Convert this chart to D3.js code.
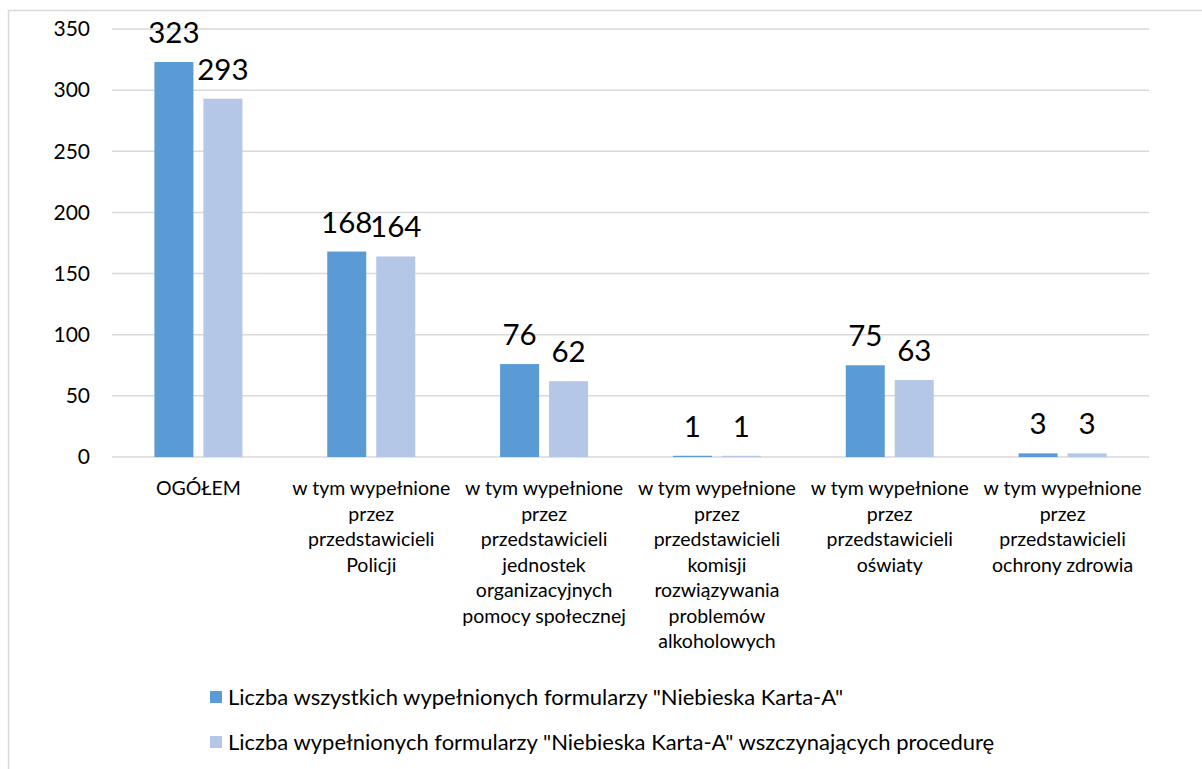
<!DOCTYPE html>
<html>
<head>
<meta charset="utf-8">
<script src="https://cdn.jsdelivr.net/npm/d3@7"></script>
<style>
  body { margin: 0; background: #fff; }
  svg text { font-family: Lato, "Liberation Sans", Arial, sans-serif; fill: #000; }
</style>
</head>
<body>
<svg id="chart" width="1202" height="769"></svg>
<script>
// categories, each already split into the lines shown under the axis
const categories = [
    ['OGÓŁEM'],
    ['w tym wypełnione', 'przez', 'przedstawicieli', 'Policji'],
    ['w tym wypełnione', 'przez', 'przedstawicieli', 'jednostek', 'organizacyjnych', 'pomocy społecznej'],
    ['w tym wypełnione', 'przez', 'przedstawicieli', 'komisji', 'rozwiązywania', 'problemów', 'alkoholowych'],
    ['w tym wypełnione', 'przez', 'przedstawicieli', 'oświaty'],
    ['w tym wypełnione', 'przez', 'przedstawicieli', 'ochrony zdrowia']
]
const allForms = [323, 168, 76, 1, 75, 3]
const startedProcedure = [293, 164, 62, 1, 63, 3]
const seriesNames = [
    'Liczba wszystkich wypełnionych formularzy "Niebieska Karta-A"',
    'Liczba wypełnionych formularzy "Niebieska Karta-A" wszczynających procedurę'
]
const seriesColors = ['#5b9bd5', '#b4c7e7']
const yTicks = [0, 50, 100, 150, 200, 250, 300, 350]

const svg = d3.select('#chart')
const plot = { left: 112, right: 1149, top: 29, bottom: 457 }

// outer chart frame (runs off the right and bottom edge)
svg.append('rect')
    .attr('x', 8.5).attr('y', 10.5)
    .attr('width', 1300).attr('height', 900)
    .attr('fill', 'none')
    .attr('stroke', '#d9d9d9')
    .attr('stroke-width', 1.5)

const idx = d3.range(categories.length)
const x0 = d3.scaleBand().domain(idx).range([plot.left, plot.right])
const x1 = d3.scaleBand().domain([0, 1]).range([0, 88]).paddingInner(10 / 49)
const y = d3.scaleLinear().domain([0, 350]).range([plot.bottom, plot.top])

// gridlines
svg.append('g')
    .selectAll('line')
    .data(yTicks)
    .enter()
    .append('line')
    .attr('x1', plot.left).attr('x2', plot.right)
    .attr('y1', d => y(d)).attr('y2', d => y(d))
    .attr('stroke', '#d9d9d9')
    .attr('stroke-width', 1.5)

// y axis labels
svg.append('g')
    .selectAll('text')
    .data(yTicks)
    .enter()
    .append('text')
    .attr('x', 90)
    .attr('y', d => y(d))
    .attr('dy', '0.35em')
    .attr('text-anchor', 'end')
    .style('font-size', '21px')
    .text(d => d)

// bars + labels
const series = [allForms, startedProcedure]
series.forEach((values, s) => {
    const g = svg.append('g')
    const off = x0.bandwidth() / 2 - 44 + x1(s)
    g.selectAll('rect')
        .data(values)
        .enter()
        .append('rect')
        .attr('x', (d, i) => x0(i) + off)
        .attr('y', d => y(d))
        .attr('width', x1.bandwidth())
        .attr('height', d => y(0) - y(d))
        .attr('fill', seriesColors[s])
    g.selectAll('text')
        .data(values)
        .enter()
        .append('text')
        .attr('x', (d, i) => x0(i) + off + x1.bandwidth() / 2)
        .attr('y', d => y(d) - 19)
        .attr('text-anchor', 'middle')
        .style('font-size', '29.5px')
        .text(d => d)
})

// category labels
const catG = svg.append('g')
categories.forEach((lines, i) => {
    const t = catG.append('text')
        .attr('text-anchor', 'middle')
        .style('font-size', '19.5px')
    lines.forEach((line, k) => {
        t.append('tspan')
            .attr('x', x0(i) + x0.bandwidth() / 2)
            .attr('y', 495 + k * 25.5)
            .text(line)
    })
})

// legend
const legend = svg.append('g')
seriesNames.forEach((name, s) => {
    const cy = 697 + s * 45
    legend.append('rect')
        .attr('x', 210).attr('y', cy - 6)
        .attr('width', 12).attr('height', 12)
        .attr('fill', seriesColors[s])
    legend.append('text')
        .attr('x', 228).attr('y', cy)
        .attr('dy', '0.35em')
        .style('font-size', '22px')
        .text(name)
})
</script>
</body>
</html>
